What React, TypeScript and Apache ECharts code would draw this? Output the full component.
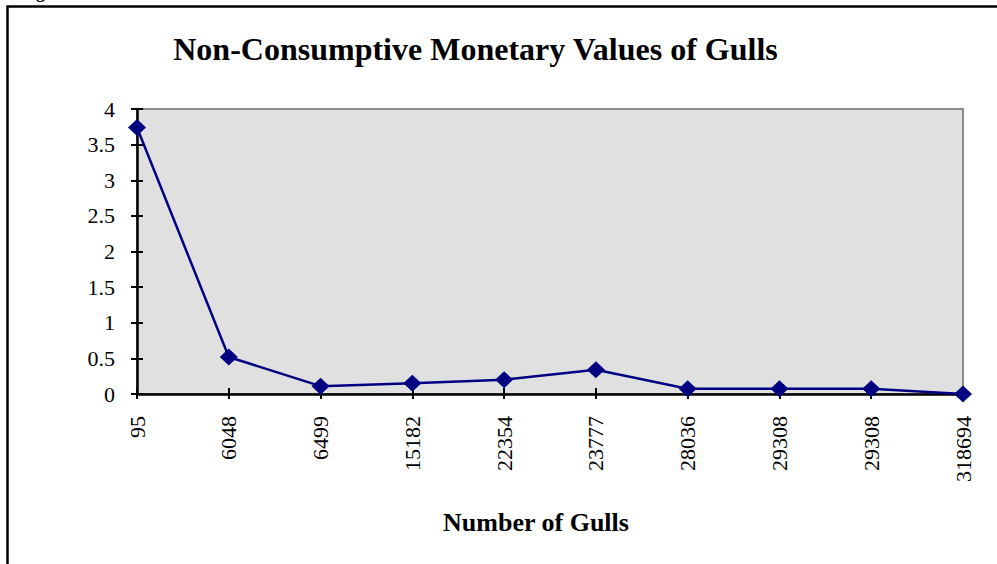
import React, { useEffect, useRef } from "react";
import * as echarts from "echarts";

const categories = ["95", "6048", "6499", "15182", "22354", "23777", "28036", "29308", "29308", "318694"];
const values = [3.74, 0.52, 0.11, 0.15, 0.2, 0.34, 0.075, 0.075, 0.075, 0.0];
const titleText = "Non-Consumptive Monetary Values of Gulls";
const xAxisTitle = "Number of Gulls";
const figureText = "Figure";

const FONT = "'Liberation Serif', 'Times New Roman', serif";

export default function App() {
  const ref = useRef<HTMLDivElement>(null);
  useEffect(() => {
    document.body.style.margin = "0";
    const chart = echarts.init(ref.current!, null, { renderer: "svg" });
    const yBase = {
      type: "value",
      min: 0,
      max: 4,
      interval: 0.5,
      splitLine: { show: false },
    };
    chart.setOption({
      animation: false,
      backgroundColor: "#ffffff",
      grid: {
        left: 137,
        top: 109,
        right: 34,
        bottom: 170,
        show: true,
        backgroundColor: "#E0E0E0",
        borderColor: "#8C8C8C",
        borderWidth: 2,
      },
      xAxis: [
        {
          type: "category",
          data: categories,
          boundaryGap: false,
          axisLine: { show: true, lineStyle: { color: "#000", width: 2.5 } },
          axisTick: { show: true, inside: false, length: 5, alignWithLabel: true, lineStyle: { color: "#000", width: 2 } },
          axisLabel: { rotate: 90, margin: 22, color: "#000", fontFamily: FONT, fontSize: 22, interval: 0 },
          splitLine: { show: false },
        },
        {
          type: "category",
          data: categories,
          position: "bottom",
          boundaryGap: false,
          axisLine: { show: false },
          axisTick: { show: true, inside: true, length: 6, lineStyle: { color: "#000", width: 2 } },
          axisLabel: { show: false },
          splitLine: { show: false },
        },
      ],
      yAxis: [
        {
          ...yBase,
          axisLine: { show: true, lineStyle: { color: "#000", width: 2.5 } },
          axisTick: { show: true, inside: false, length: 6, lineStyle: { color: "#000", width: 2 } },
          axisLabel: { margin: 22, color: "#000", fontFamily: FONT, fontSize: 22 },
        },
        {
          ...yBase,
          position: "left",
          axisLine: { show: false },
          axisTick: { show: true, inside: true, length: 6, lineStyle: { color: "#000", width: 2 } },
          axisLabel: { show: false },
        },
      ],
      series: [
        {
          type: "line",
          data: values,
          xAxisIndex: 0,
          yAxisIndex: 0,
          symbol: "diamond",
          symbolSize: [18, 17],
          lineStyle: { color: "#000080", width: 2.5 },
          itemStyle: { color: "#000080" },
          z: 5,
        },
      ],
      graphic: [
        {
          type: "rect",
          shape: { x: 7.5, y: 6.5, width: 1100, height: 700 },
          style: { fill: "none", stroke: "#000", lineWidth: 2.5 },
          silent: true,
        },
        {
          type: "text",
          x: 20,
          y: -8,
          style: { text: figureText, fontFamily: FONT, fontSize: 18, fontWeight: "bold", fill: "#000", textVerticalAlign: "middle" },
        },
        {
          type: "text",
          x: 475.5,
          y: 49,
          style: { text: titleText, fontFamily: FONT, fontSize: 32, fontWeight: "bold", fill: "#000", textAlign: "center", textVerticalAlign: "middle" },
        },
        {
          type: "text",
          x: 536,
          y: 522,
          style: { text: xAxisTitle, fontFamily: FONT, fontSize: 26, fontWeight: "bold", fill: "#000", textAlign: "center", textVerticalAlign: "middle" },
        },
      ],
    });
    return () => chart.dispose();
  }, []);
  return <div ref={ref} style={{ width: 997, height: 564 }} />;
}
